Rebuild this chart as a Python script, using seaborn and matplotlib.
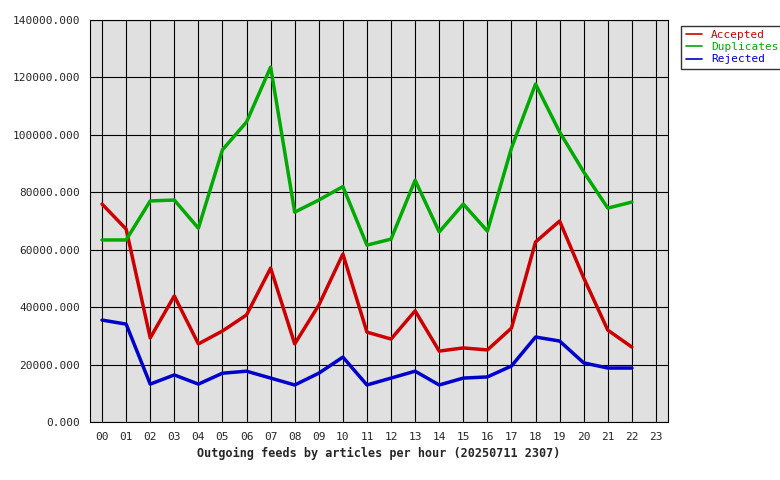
import matplotlib
matplotlib.use("Agg")
import matplotlib.pyplot as plt
import seaborn as sns
import pandas as pd

hours = [f"{h:02d}" for h in range(24)]
accepted = [75900, 67200, 29300, 43900, 27200, 31700, 37300, 53600, 27200, 40700, 58500, 31300,
            28900, 38700, 24700, 25800, 25100, 32700, 62700, 70000, 50200, 32000, 26100]
duplicates = [63400, 63400, 77000, 77300, 67500, 94800, 104500, 123600, 73100, 77300, 82000, 61600,
              63700, 84200, 66200, 75900, 66500, 95400, 117700, 101000, 87100, 74500, 76600]
rejected = [35500, 34100, 13200, 16400, 13200, 17000, 17700, 15300, 12900, 17000, 22600, 12900,
            15300, 17700, 12900, 15300, 15700, 19500, 29600, 28200, 20600, 18800, 18800]

sns.set_style("white")
plt.rcParams["font.family"] = ["DejaVu Sans Mono"]
plt.rcParams["font.size"] = 8

n = len(accepted)
df = pd.DataFrame({
    "hour": list(range(n)) * 3,
    "value": accepted + duplicates + rejected,
    "series": ["Accepted"] * n + ["Duplicates"] * n + ["Rejected"] * n,
})
colors = {"Accepted": "#cc0000", "Duplicates": "#00aa00", "Rejected": "#0000cc"}

fig = plt.figure(figsize=(7.8, 4.8), dpi=100)
ax = fig.add_axes([0.1154, 0.1208, 0.7410, 0.8375])
ax.set_facecolor("#e0e0e0")
sns.lineplot(data=df, x="hour", y="value", hue="series", palette=colors, linewidth=2.5, ax=ax)

ax.set_xlim(-0.5, 23.5)
ax.set_ylim(0, 140000)
ax.set_xticks(range(24))
ax.set_xticklabels(hours)
ax.set_yticks(range(0, 140001, 20000))
ax.set_yticklabels([f"{v}.000" for v in range(0, 140001, 20000)])
ax.grid(True, color="black", linewidth=0.8)
ax.set_axisbelow(True)
for s in ax.spines.values():
    s.set_color("black")
ax.set_ylabel("")
ax.set_xlabel("Outgoing feeds by articles per hour (20250711 2307)", fontweight="bold", fontsize=8.5)

leg = ax.legend(loc="upper left", bbox_to_anchor=(1.013, 1.0), frameon=True, fancybox=False,
                edgecolor="black", handlelength=1.5, borderpad=0.4, labelspacing=0.2)
for txt, line in zip(leg.get_texts(), leg.get_lines()):
    txt.set_color(line.get_color())
    line.set_linewidth(1.2)

fig.savefig("out.png", dpi=100)
